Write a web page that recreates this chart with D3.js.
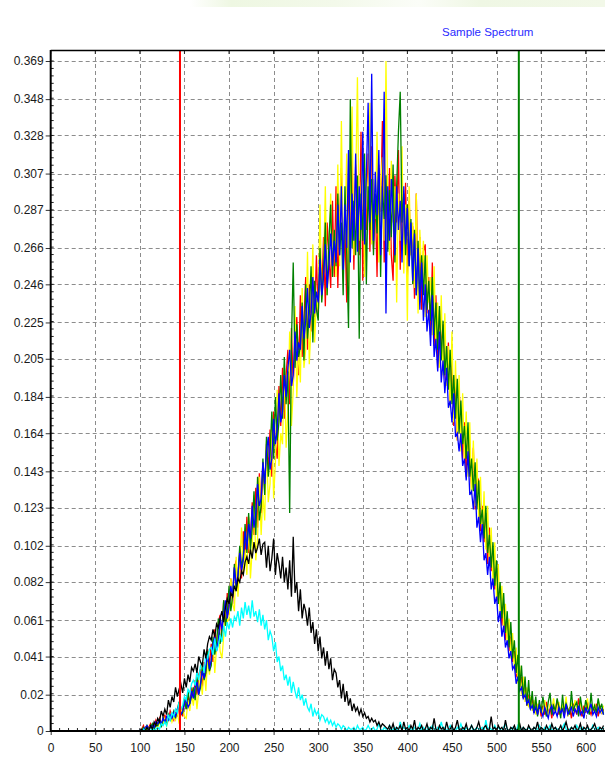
<!DOCTYPE html>
<html>
<head>
<meta charset="utf-8">
<script src="https://cdn.jsdelivr.net/npm/d3@7"></script>
<style>
  body { margin: 0; background: #fff; }
  text { font-family: "Liberation Sans", Arial, sans-serif; }
</style>
</head>
<body>
<svg width="605" height="774"></svg>
<script>
// channel axis: one sample every 2 channels, 100..620 (below 100 everything sits on 0)
var channels = d3.range(100, 622, 2);

// intensities in thousandths
var red = [0,1,3,0,2,2,4,1,3,6, 3,7,4,4,9,5,6,11,8,6,
  12,8,15,13,8,18,12,20,14,24, 18,28,20,31,34,24,38,30,45,36,
  48,38,56,46,60,64,50,72,58,76, 64,84,70,90,94,78,100,84,110,96,
  118,98,104,126,108,134,112,142,120,148, 132,158,144,166,140,176,158,150,190,168,
  200,172,196,210,180,222,190,214,228,196, 240,206,226,250,210,246,220,256,228,262,
  228,266,240,272,234,280,262,244,292,250, 300,244,282,310,252,276,236,306,270,318,
  254,312,290,262,330,248,300,276,318,264, 322,266,294,250,312,286,336,258,300,274,
  310,262,248,306,280,320,254,296,268,302, 250,292,262,278,238,296,244,272,232,264,
  268,230,250,218,258,212,240,200,232,212, 224,196,190,214,180,204,168,196,160,186,
  176,150,170,140,162,150,134,156,122,140, 138,110,124,104,120,92,112,88,98,78,
  92,70,74,58,70,50,60,44,52,38, 44,30,32,24,30,18,26,14,20,13, 18,10,16,9,15,
  8,14,9,16,10,13,7,15,11,17, 9,12,14,8,16,10,13,7,15,12, 9,18,11,8,14,10,16,12,9,13, 11,15,8,14,10,12];

var yellow = [0,1,0,2,1,0,3,1,2,4, 2,5,3,4,7,3,6,9,5,8,
  6,11,4,9,14,8,7,17,11,20, 14,24,12,22,30,20,34,22,40,31,
  38,50,32,46,58,44,40,52,70,60, 62,84,70,66,96,74,92,112,86,100,
  86,118,84,100,130,94,106,140,108,130, 116,160,126,136,174,128,148,188,146,164,
  158,202,156,176,220,168,188,234,184,210, 192,244,200,210,264,202,224,268,214,238,
  232,290,238,252,300,240,262,296,250,276, 250,312,256,336,262,276,318,240,296,344,
  262,300,360,270,296,320,250,310,288,346, 268,304,282,330,258,300,316,270,369,290,
  262,314,280,300,236,296,270,322,252,290, 226,300,262,280,244,296,230,276,250,270,
  228,262,236,250,218,256,212,236,200,240, 196,230,190,212,178,220,170,204,160,196,
  154,186,150,176,140,170,130,160,124,150, 116,140,108,132,100,124,92,112,82,104,
  72,92,64,80,58,70,48,62,40,54, 34,46,26,36,20,30,16,24,13,19, 11,17,9,15,12,
  14,9,17,11,8,15,12,18,10,13, 16,9,14,11,19,8,12,15,10,17, 13,9,16,12,8,14,18,10,13,11, 15,9,17,12,10,14];

var green = [1,0,2,0,3,1,2,4,1,3, 3,6,2,7,5,4,9,6,8,11,
  7,12,16,9,10,17,12,22,15,19, 24,17,30,20,24,36,28,32,44,33,
  36,52,42,48,62,48,56,72,58,64, 80,66,74,92,78,84,102,90,96,114,
  98,120,100,112,132,108,140,116,124,150, 130,162,140,152,176,150,184,160,170,196,
  172,206,180,198,120,214,258,200,224,206, 212,236,204,246,216,230,256,214,248,232,
  226,266,236,254,280,240,270,290,250,276, 256,296,262,280,240,300,262,222,348,266,
  292,262,306,216,296,270,318,246,300,276, 304,262,296,274,310,250,300,282,306,264,
  298,272,312,258,300,330,352,280,296,262, 290,256,282,246,276,240,270,236,262,240,
  262,232,248,226,250,218,236,210,234,204, 226,196,212,188,210,180,196,172,194,164,
  182,158,168,150,170,140,150,132,148,122, 138,114,122,106,124,98,108,90,104,80,
  94,70,82,62,76,54,66,46,60,40, 50,32,42,24,36,18,30,14,28,12, 22,10,19,8,17,
  10,19,12,8,16,21,9,14,11,18, 13,7,20,10,15,12,9,22,11,14, 16,8,19,12,10,17,13,9,21,11, 14,10,18,12,15,9];

var blue = [1,0,1,2,3,1,2,3,2,5, 4,6,4,7,5,8,6,9,7,10,
  8,12,14,9,11,15,18,13,15,22, 18,24,27,20,26,33,29,36,42,34,
  39,48,52,44,50,62,56,64,72,62, 68,80,74,90,80,86,98,88,94,110,
  100,114,106,124,112,120,136,124,128,148, 136,154,162,144,150,172,158,166,186,170,
  176,196,184,200,210,190,196,220,204,214, 210,234,216,226,244,222,230,250,230,242,
  236,260,240,250,268,244,256,274,256,270, 258,290,262,300,254,290,266,320,258,296,
  270,318,264,300,276,330,268,306,346,280, 362,270,308,284,320,262,296,352,230,300,
  270,304,284,262,300,276,292,258,300,268, 288,256,280,248,274,240,266,232,258,226,
  246,220,232,212,240,206,216,198,220,192, 204,186,200,178,182,170,186,162,164,154,
  164,146,150,138,154,130,132,122,136,112, 118,104,114,94,98,86,96,78,84,70,
  74,60,66,52,58,46,50,40,44,34, 36,26,30,22,24,18,20,15,17,12, 14,10,13,9,14,
  11,8,13,10,7,12,14,9,11,8, 13,10,12,7,15,9,11,13,8,12, 10,14,9,11,7,13,10,12,15,9, 11,8,13,10,12,9];

var cyan = [0,0,1,0,0,1,0,2,0,1, 2,1,4,3,5,3,9,6,10,8,
  12,10,16,12,14,19,17,23,21,26, 28,25,33,28,36,38,32,43,40,45,
  46,42,51,44,47,53,49,58,52,60, 56,62,57,63,61,66,58,68,62,71,
  64,69,62,72,63,66,60,67,58,64, 56,61,50,55,52,44,49,38,41,33,
  36,28,31,25,30,21,27,22,18,24, 17,20,14,18,13,11,15,8,12,9,
  11,6,9,8,5,7,4,6,3,5, 2,4,3,1,3,2,0,2,1,1,
  2,0,3,1,1,2,0,1,3,1, 1,2,0,1,4,1,0,2,1,1,
  3,0,1,2,1,0,5,1,2,1, 1,3,1,0,2,1,1,4,0,2,
  1,0,2,1,3,1,0,2,1,5, 1,2,0,1,3,1,1,0,2,1,
  4,1,0,2,1,1,3,0,1,2, 1,1,2,0,6,1,2,1,0,3,
  1,2,1,0,2,4,1,0,1,2, 1,0,3,1,1,2,0,1,2,1, 0,2,1,1,3,
  1,0,2,1,1,3,0,1,2,1, 1,0,2,4,1,0,1,2,1,0, 3,1,1,2,0,1,2,1,0,3, 1,1,2,0,1,2];

var black = [0,1,0,0,2,0,3,1,5,3, 7,5,11,8,12,9,17,13,19,16,
  24,19,23,26,21,29,24,31,27,35, 33,37,32,41,38,36,45,40,48,52,
  50,56,52,59,57,62,66,60,68,73, 70,76,74,80,77,84,82,88,86,93,
  96,92,100,95,104,98,101,106,97,103, 104,90,102,88,95,106,86,98,92,84,
  96,82,90,78,94,74,107,76,82,66, 78,62,70,66,58,68,54,60,48,56,
  44,52,40,46,36,44,34,40,28,34, 32,24,28,18,26,16,22,14,18,11,
  15,11,13,9,12,8,10,7,8,5, 7,5,6,3,5,2,4,3,2,1,
  3,1,4,0,2,1,3,0,5,1, 2,0,3,1,6,0,2,1,3,0,
  1,4,0,2,1,7,1,0,3,1, 2,0,5,1,1,3,0,2,6,1,
  0,2,1,4,0,1,3,1,0,2, 5,1,0,2,3,0,1,8,1,2,
  0,3,1,2,0,6,1,0,2,1, 3,0,1,4,0,2,1,0,3,1, 0,2,1,5,0,
  2,1,0,3,1,0,4,1,2,0, 1,3,0,2,5,1,0,2,1,3, 0,1,4,0,2,1,3,0,1,2, 4,1,0,2,1,3];

var series = [
  {name: "red", color: "#ff0000", values: red},
  {name: "yellow", color: "#ffff00", values: yellow},
  {name: "green", color: "#008000", values: green},
  {name: "blue", color: "#0000ff", values: blue},
  {name: "cyan", color: "#00ffff", values: cyan},
  {name: "black", color: "#000000", values: black}
];

var xTicks = [0, 50, 100, 150, 200, 250, 300, 350, 400, 450, 500, 550, 600];
var yTickLabels = ["0", "0.02", "0.041", "0.061", "0.082", "0.102", "0.123", "0.143", "0.164",
  "0.184", "0.205", "0.225", "0.246", "0.266", "0.287", "0.307", "0.328", "0.348", "0.369"];

// region markers (channels)
var markers = [{ch: 145, color: "#ff0000"}, {ch: 525, color: "#008000"}];

var svg = d3.select("svg"),
    width = +svg.attr("width"),
    height = +svg.attr("height");

// plot frame edges ("top" is taken by window.top)
var plotLeft = 50.7, plotTop = 50, plotBottom = 731;

var x = d3.scaleLinear().domain([0, 600]).range([plotLeft, 585.7]);
var y = d3.scaleLinear().domain([0, 0.369]).range([plotBottom, 61]);

var defs = svg.append("defs");

// faint banner strip at the very top
var grad = defs.append("linearGradient").attr("id", "band");
grad.append("stop").attr("offset", "0%").attr("stop-color", "#ffffff");
grad.append("stop").attr("offset", "10%").attr("stop-color", "#eef7e2");
grad.append("stop").attr("offset", "35%").attr("stop-color", "#f3f9ea");
grad.append("stop").attr("offset", "55%").attr("stop-color", "#fbfdf8");
grad.append("stop").attr("offset", "70%").attr("stop-color", "#eff7e4");
grad.append("stop").attr("offset", "100%").attr("stop-color", "#f2f8e8");
svg.append("rect").attr("x", 190).attr("y", 0).attr("width", 415).attr("height", 7).attr("fill", "url(#band)");

defs.append("clipPath").attr("id", "plot")
  .append("rect").attr("x", plotLeft).attr("y", plotTop)
  .attr("width", width - plotLeft).attr("height", plotBottom - plotTop);

svg.append("text")
  .attr("x", 442).attr("y", 36)
  .attr("font-size", 11.5)
  .attr("fill", "#2a2aff")
  .text("Sample Spectrum");

// ****** Grid ******
var grid = svg.append("g")
  .attr("stroke", "#8c8c8c")
  .attr("stroke-width", 1)
  .attr("stroke-dasharray", "4,3");

grid.selectAll("line.h")
  .data(yTickLabels.slice(1))
  .join("line")
    .attr("class", "h")
    .attr("x1", plotLeft).attr("x2", width)
    .attr("y1", d => Math.round(y(+d)) + 0.5)
    .attr("y2", d => Math.round(y(+d)) + 0.5);

grid.selectAll("line.v")
  .data(xTicks.slice(1))
  .join("line")
    .attr("class", "v")
    .attr("y1", plotTop).attr("y2", plotBottom)
    .attr("x1", d => Math.round(x(d)) + 0.5)
    .attr("x2", d => Math.round(x(d)) + 0.5);

// ****** Spectra ******
var line = d3.line()
  .x((d, i) => x(channels[i]))
  .y(d => y(d / 1000));

svg.append("g")
  .attr("clip-path", "url(#plot)")
  .attr("fill", "none")
  .attr("stroke-width", 1.3)
  .selectAll("path")
  .data(series)
  .join("path")
    .attr("stroke", d => d.color)
    .attr("d", d => line(d.values));

svg.append("g")
  .selectAll("line")
  .data(markers)
  .join("line")
    .attr("x1", d => x(d.ch)).attr("x2", d => x(d.ch))
    .attr("y1", plotTop).attr("y2", plotBottom)
    .attr("stroke", d => d.color)
    .attr("stroke-width", 2);

// ****** Axes ******
var yAxis = d3.axisLeft(y)
  .tickValues(yTickLabels.map(Number))
  .tickFormat((d, i) => yTickLabels[i])
  .tickSize(5)
  .tickPadding(2);

var yg = svg.append("g").attr("transform", "translate(" + plotLeft + ",0)").call(yAxis);
yg.select(".domain").remove();

var xAxis = d3.axisBottom(x)
  .tickValues(xTicks)
  .tickSize(4)
  .tickPadding(8);

var xg = svg.append("g").attr("transform", "translate(0," + plotBottom + ")").call(xAxis);
xg.select(".domain").remove();

[yg, xg].forEach(function(g) {
  g.selectAll("text").attr("font-size", 12).attr("fill", "#1a1a1a")
    .attr("font-family", "\"Liberation Sans\", Arial, sans-serif");
  g.selectAll("line").attr("stroke", "#333");
});

// minor ticks inside the frame
svg.append("g").attr("stroke", "#222")
  .selectAll("line")
  .data(d3.range(0, 0.372, 0.0041))
  .join("line")
    .attr("x1", plotLeft).attr("x2", plotLeft + 3)
    .attr("y1", d => y(d)).attr("y2", d => y(d));

svg.append("g").attr("stroke", "#222")
  .selectAll("line")
  .data(d3.range(0, 630, 10))
  .join("line")
    .attr("x1", d => x(d)).attr("x2", d => x(d))
    .attr("y1", plotBottom).attr("y2", plotBottom - 3);

// major ticks along the top edge
svg.append("g").attr("stroke", "#222")
  .selectAll("line")
  .data(xTicks)
  .join("line")
    .attr("x1", d => x(d)).attr("x2", d => x(d))
    .attr("y1", plotTop).attr("y2", plotTop + 4);

// frame
svg.append("line").attr("x1", plotLeft).attr("x2", width).attr("y1", plotTop + 0.5).attr("y2", plotTop + 0.5)
  .attr("stroke", "#000").attr("stroke-width", 1.5);
svg.append("line").attr("x1", plotLeft).attr("x2", plotLeft).attr("y1", plotTop).attr("y2", plotBottom + 1)
  .attr("stroke", "#000").attr("stroke-width", 2);
svg.append("line").attr("x1", plotLeft).attr("x2", width).attr("y1", plotBottom).attr("y2", plotBottom)
  .attr("stroke", "#000").attr("stroke-width", 2);
</script>
</body>
</html>
